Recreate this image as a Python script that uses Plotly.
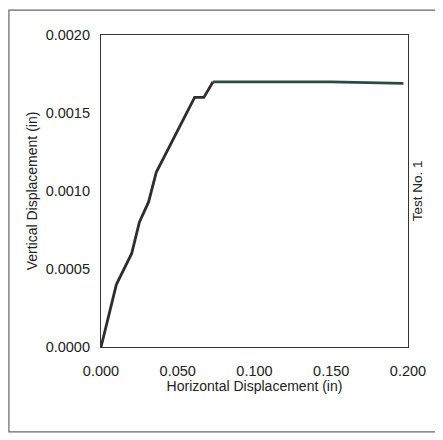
import plotly.graph_objects as go

# Data
x_rise = [0.000, 0.010, 0.020, 0.025, 0.031, 0.036, 0.061, 0.067, 0.073]
y_rise = [0.0000, 0.0004, 0.0006, 0.0008, 0.00093, 0.00112, 0.0016, 0.0016, 0.0017]
x_flat = [0.073, 0.100, 0.150, 0.197]
y_flat = [0.0017, 0.0017, 0.0017, 0.00169]

x_ticks = [0.0, 0.05, 0.10, 0.15, 0.20]
x_ticklabels = ["0.000", "0.050", "0.100", "0.150", "0.200"]
y_ticks = [0.0, 0.0005, 0.0010, 0.0015, 0.0020]
y_ticklabels = ["0.0000", "0.0005", "0.0010", "0.0015", "0.0020"]

fig = go.Figure()
fig.add_trace(go.Scatter(x=x_rise, y=y_rise, mode="lines",
                         line=dict(color="#2e2e2e", width=2.8), showlegend=False))
fig.add_trace(go.Scatter(x=x_flat, y=y_flat, mode="lines",
                         line=dict(color="#2c4a42", width=2.8), showlegend=False))

font = dict(family="Liberation Sans, Arial, sans-serif", color="#222")

# page body has an 8px margin, so the figure is sized to fit inside it
fig.update_layout(
    width=435, height=432,
    margin=dict(l=93, r=35, t=27, b=93),
    paper_bgcolor="white", plot_bgcolor="white",
    font=dict(**font, size=14),
    xaxis=dict(range=[0, 0.2], tickvals=x_ticks, ticktext=x_ticklabels,
               showgrid=False, zeroline=False, showline=True, mirror=True,
               linecolor="#333", linewidth=1.2, ticks="", tickfont=dict(size=14.5),
               ticklabelstandoff=10,
               title=dict(text="Horizontal Displacement (in)", font=dict(size=14), standoff=0)),
    yaxis=dict(range=[0, 0.002], tickvals=y_ticks, ticktext=y_ticklabels,
               showgrid=False, zeroline=False, showline=True, mirror=True,
               linecolor="#333", linewidth=1.2, ticks="", tickfont=dict(size=14.5),
               ticklabelstandoff=7,
               title=dict(text="Vertical Displacement (in)", font=dict(size=14), standoff=4)),
    annotations=[dict(text="Test No. 1", textangle=-90, xref="paper", yref="paper",
                      x=1.03, y=0.5, xanchor="center", yanchor="middle",
                      showarrow=False, font=dict(size=13.5))],
    shapes=[dict(type="rect", xref="paper", yref="paper",
                 x0=-0.300, x1=1.2, y0=-0.272, y1=1.08,
                 line=dict(color="#666", width=1.2))],
)

fig.write_html("out.html")
